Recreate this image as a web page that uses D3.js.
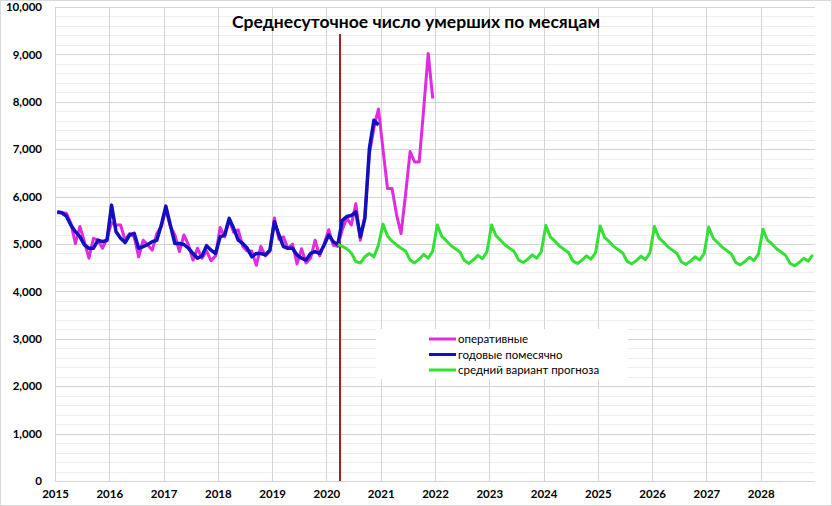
<!DOCTYPE html>
<html>
<head>
<meta charset="utf-8">
<script src="https://cdn.jsdelivr.net/npm/d3@7"></script>
<style>
  body { margin: 0; background: #fff; }
  svg { display: block; font-family: Lato, "Liberation Sans", sans-serif; }
</style>
</head>
<body>
<div id="chart"></div>
<script>
const W = 832, H = 506
const MARGIN = { TOP: 7, BOTTOM: 25, LEFT: 55, RIGHT: 17 }

const years = [2015, 2016, 2017, 2018, 2019, 2020, 2021, 2022, 2023, 2024, 2025, 2026, 2027, 2028]
const yTicks = [0, 1000, 2000, 3000, 4000, 5000, 6000, 7000, 8000, 9000, 10000]

// оперативные, Jan 2015 - Dec 2021
const operValues = [
  5660, 5660, 5650, 5440, 5010, 5370, 5050, 4700, 5120, 5080, 4910, 5120,
  5450, 5400, 5400, 5080, 5220, 5150, 4730, 5080, 4980, 4870, 5220, 5370,
  5720, 5370, 5190, 4840, 5190, 4980, 4660, 4910, 4700, 4850, 4650, 4750,
  5350, 5150, 5500, 5250, 5300, 4950, 4850, 4850, 4550, 4950, 4750, 4850,
  5550, 5100, 5150, 4900, 5000, 4580, 4900, 4600, 4700, 5080, 4750, 5000,
  5300, 4980, 4950, 5300, 5550, 5400, 5850, 5080, 5600, 6900, 7450, 7850,
  7000, 6170, 6170, 5620, 5220, 6050, 6950, 6730, 6730, 7850, 9020, 8070
]

// годовые помесячно, Jan 2015 - Dec 2020
const annualValues = [
  5680, 5660, 5590, 5400, 5260, 5155, 4980, 4910, 4910, 5080, 5050, 5080,
  5820, 5260, 5120, 5030, 5190, 5225, 4910, 4945, 4990, 5050, 5080, 5400,
  5800, 5400, 5010, 5010, 4990, 4910, 4800, 4700, 4750, 4965, 4870, 4800,
  5150, 5190, 5540, 5330, 5080, 5010, 4910, 4730, 4800, 4800, 4770, 4870,
  5470, 5190, 4945, 4910, 4910, 4770, 4700, 4660, 4800, 4840, 4800, 4980,
  5190, 5050, 4980, 5500, 5580, 5600, 5680, 5150, 5540, 7020, 7610, 7510
]

// средний вариант прогноза, Mar 2020 - Dec 2028
const forecastStart = [2020, 2]
const forecastValues = [
  4990, 4950, 4900, 4810, 4630, 4600, 4730, 4800, 4730, 4980,
  5420, 5170, 5060, 4980, 4910, 4850, 4660, 4600, 4680, 4780, 4700, 4850,
  5400, 5160, 5070, 4970, 4900, 4830, 4650, 4590, 4670, 4760, 4690, 4840,
  5400, 5170, 5080, 4980, 4910, 4840, 4660, 4610, 4680, 4770, 4700, 4840,
  5390, 5150, 5060, 4960, 4890, 4820, 4640, 4590, 4660, 4750, 4680, 4820,
  5380, 5140, 5050, 4950, 4880, 4810, 4630, 4580, 4650, 4740, 4670, 4810,
  5370, 5130, 5040, 4940, 4870, 4800, 4620, 4570, 4640, 4730, 4660, 4800,
  5360, 5120, 5030, 4930, 4860, 4790, 4610, 4560, 4630, 4720, 4650, 4790,
  5310, 5080, 5000, 4900, 4830, 4760, 4590, 4540, 4610, 4700, 4640, 4770
]

const markerDate = 2020.25
const seriesNames = ['оперативные', 'годовые помесячно', 'средний вариант прогноза']
const COLORS = ['#e02be0', '#1010c0', '#35e035']
const WIDTHS = [3, 3.5, 3]

// month index -> fractional year (points sit mid-month)
const toPoints = (values, y0, m0) => values.map((v, i) => ({
  t: y0 + (m0 + i + 0.5) / 12,
  v: v
}))

const svg = d3.select('#chart').append('svg')
  .attr('width', W)
  .attr('height', H)

svg.append('rect')
  .attr('x', 0.5).attr('y', 0.5)
  .attr('width', W - 1).attr('height', H - 1)
  .attr('fill', '#fff')
  .attr('stroke', '#d9d9d9')

const x = d3.scaleLinear()
  .domain([2015, 2029])
  .range([MARGIN.LEFT, W - MARGIN.RIGHT])

const y = d3.scaleLinear()
  .domain([0, 10000])
  .range([H - MARGIN.BOTTOM, MARGIN.TOP])

// minor gridlines
svg.append('g')
  .selectAll('line')
  .data(d3.range(200, 10000, 200).filter(d => d % 1000 !== 0))
  .enter().append('line')
    .attr('x1', x(2015)).attr('x2', x(2029))
    .attr('y1', d => Math.round(y(d)) + 0.5)
    .attr('y2', d => Math.round(y(d)) + 0.5)
    .attr('stroke', '#eeeeee')

// major gridlines
svg.append('g')
  .selectAll('line')
  .data(yTicks)
  .enter().append('line')
    .attr('x1', x(2015)).attr('x2', x(2029))
    .attr('y1', d => Math.round(y(d)) + 0.5)
    .attr('y2', d => Math.round(y(d)) + 0.5)
    .attr('stroke', '#d4d4d4')

svg.append('g')
  .selectAll('line')
  .data(years)
  .enter().append('line')
    .attr('x1', d => Math.round(x(d)) + 0.5)
    .attr('x2', d => Math.round(x(d)) + 0.5)
    .attr('y1', y(10000)).attr('y2', y(0))
    .attr('stroke', '#d4d4d4')

// axes
const yAxisGroup = svg.append('g')
  .attr('transform', `translate(${MARGIN.LEFT - 10}, 0)`)
  .call(d3.axisLeft(y).tickValues(yTicks).tickFormat(d3.format(',')).tickSize(0))
yAxisGroup.select('.domain').remove()
yAxisGroup.selectAll('text')
  .attr('font-size', 11.5)
  .attr('font-weight', 'bold')
  .attr('fill', '#000')
  .attr('font-family', 'Lato, sans-serif')

const xAxisGroup = svg.append('g')
  .attr('transform', `translate(0, ${H - MARGIN.BOTTOM})`)
  .call(d3.axisBottom(x).tickValues(years).tickFormat(d3.format('d')).tickSize(0).tickPadding(9))
xAxisGroup.select('.domain').remove()
xAxisGroup.selectAll('text')
  .attr('font-size', 11.5)
  .attr('font-weight', 'bold')
  .attr('fill', '#000')
  .attr('font-family', 'Lato, sans-serif')

// vertical marker
svg.append('line')
  .attr('x1', x(markerDate)).attr('x2', x(markerDate))
  .attr('y1', 34).attr('y2', y(0))
  .attr('stroke', '#a8201e')
  .attr('stroke-width', 2)

const line = d3.line()
  .x(d => x(d.t))
  .y(d => y(d.v))

const series = [
  toPoints(operValues, 2015, 0),
  toPoints(annualValues, 2015, 0),
  toPoints(forecastValues, forecastStart[0], forecastStart[1])
]

series.forEach((pts, i) => {
  svg.append('path')
    .datum(pts)
    .attr('fill', 'none')
    .attr('stroke', COLORS[i])
    .attr('stroke-width', WIDTHS[i])
    .attr('stroke-linejoin', 'round')
    .attr('d', line)
})

// title
svg.append('text')
  .attr('x', 416)
  .attr('y', 28)
  .attr('text-anchor', 'middle')
  .attr('font-size', 17.5)
  .attr('font-weight', 'bold')
  .attr('fill', '#000')
  .text('Среднесуточное число умерших по месяцам')

// legend
const legend = svg.append('g')
legend.append('rect')
  .attr('x', 376).attr('y', 329)
  .attr('width', 252).attr('height', 50)
  .attr('fill', '#fff')

seriesNames.forEach((name, i) => {
  const ly = 339 + i * 15.5
  legend.append('line')
    .attr('x1', 429).attr('x2', 456)
    .attr('y1', ly).attr('y2', ly)
    .attr('stroke', COLORS[i])
    .attr('stroke-width', 3)
  legend.append('text')
    .attr('x', 458)
    .attr('y', ly + 4)
    .attr('font-size', 11.5)
    .attr('fill', '#000')
    .text(name)
})
</script>
</body>
</html>
